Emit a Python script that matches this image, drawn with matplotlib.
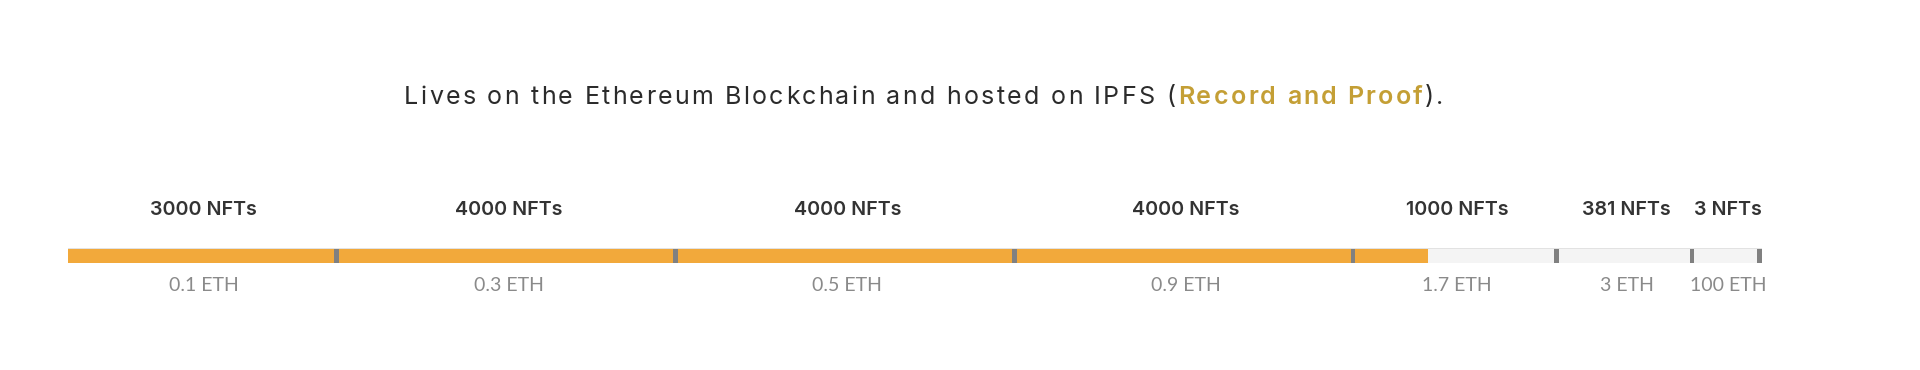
import matplotlib
matplotlib.use("Agg")
import matplotlib.pyplot as plt
import numpy as np

# tiers of the drop, left to right
nft_counts = ["3000 NFTs", "4000 NFTs", "4000 NFTs", "4000 NFTs", "1000 NFTs", "381 NFTs", "3 NFTs"]
prices = ["0.1 ETH", "0.3 ETH", "0.5 ETH", "0.9 ETH", "1.7 ETH", "3 ETH", "100 ETH"]
tier_share = [16, 20, 20, 20, 12, 8, 4]   # width of each tier on the bar (% of bar)
progress = 80.3                           # filled (minted) part of the bar (%)

title_parts = [
    ("Lives on the Ethereum Blockchain and hosted on IPFS (", "#2B2B2B", "normal"),
    ("Record and Proof", "#C49F35", "semibold"),
    (").", "#2B2B2B", "normal"),
]

TITLE_FONT = "Inter"
LABEL_FONT = "Inter"
PRICE_FONT = "Lato"

W, H = 1920, 370
fig = plt.figure(figsize=(W / 100, H / 100), dpi=100)
fig.patch.set_facecolor("white")

# axes spans the bar horizontally, y in pixel rows (top = 0)
bar_x0, bar_x1 = 68, 1762
ax = fig.add_axes([bar_x0 / W, 0, (bar_x1 - bar_x0) / W, 1])
ax.set_xlim(0, 100)
ax.set_ylim(H, 0)
ax.axis("off")

edges = np.concatenate([[0], np.cumsum(tier_share)])
centers = (edges[:-1] + edges[1:]) / 2

# bar: thin top border, light track, orange progress, gray separators
ax.barh(255.5, 100, height=15, color="#E2E2E2")
ax.barh(256.2, 100, height=13.6, color="#F4F4F4")
ax.barh(256.2, progress, height=13.6, color="#F2A93B")
sep_w = 4.6 / (bar_x1 - bar_x0) * 100
ax.barh(np.full(len(edges) - 1, 256.2), sep_w, left=edges[1:] - sep_w,
        height=13.6, color="#808080")

for c, n, p in zip(centers, nft_counts, prices):
    ax.text(c, 215, n, ha="center", va="baseline", fontsize=14.2,
            fontweight="semibold", color="#333333", family=LABEL_FONT)
    ax.text(c, 291, p, ha="center", va="baseline", fontsize=14.0,
            fontweight="normal", color="#8A8A8A", family=PRICE_FONT)


# title with letter spacing, drawn char by char
def spaced_title(x_center, baseline, parts, size, spacing):
    r = fig.canvas.get_renderer()
    chars = [(ch, col, wt) for t, col, wt in parts for ch in t]

    def width(s, wt):
        t = fig.text(0, 0, s + "l", fontsize=size, family=TITLE_FONT, fontweight=wt)
        w = t.get_window_extent(r).width
        t.remove()
        return w

    # advance of each char in its own weight
    adv = []
    for ch, col, wt in chars:
        adv.append(width(ch, wt) - width("", wt))
    offs = np.concatenate([[0], np.cumsum(adv)])
    total = offs[-1] + spacing * (len(chars) - 1)
    x0 = x_center - total / 2
    for i, (ch, col, wt) in enumerate(chars):
        if ch == " ":
            continue
        fig.text((x0 + offs[i] + i * spacing) / W, 1 - baseline / H, ch,
                 fontsize=size, family=TITLE_FONT, color=col, fontweight=wt,
                 ha="left", va="baseline")


spaced_title(924, 104, title_parts, 18, 2.3)

fig.savefig("out.png", dpi=100, facecolor="white")
